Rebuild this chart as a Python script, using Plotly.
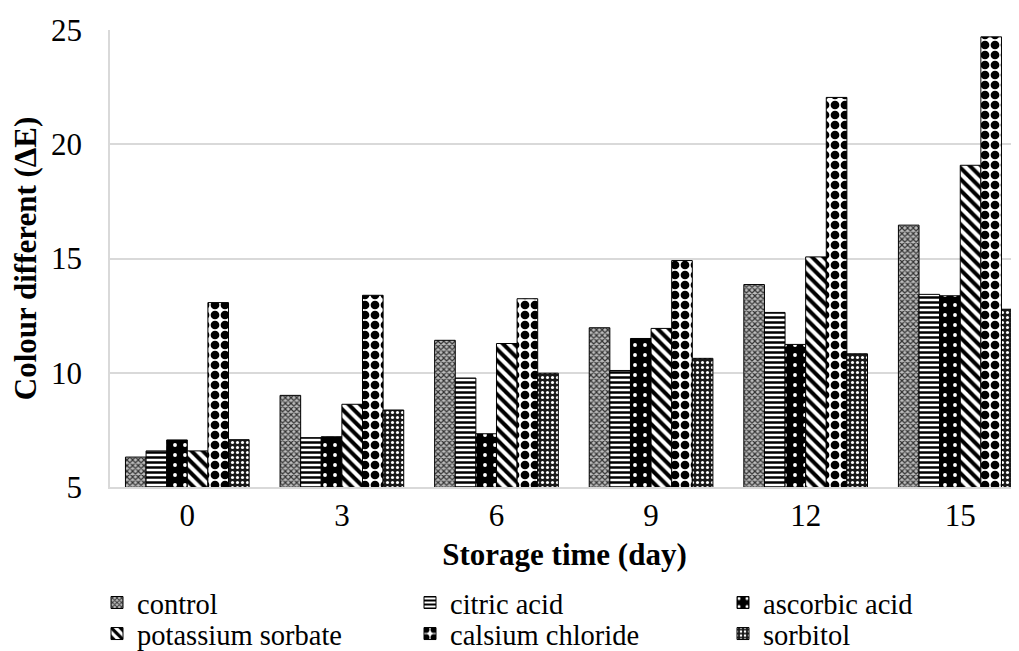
import plotly.graph_objects as go

days = ["0", "3", "6", "9", "12", "15"]
control = [6.31, 9.01, 11.42, 11.97, 13.86, 16.46]
citric_acid = [6.58, 7.16, 9.77, 10.1, 12.64, 13.43]
ascorbic_acid = [7.06, 7.2, 7.33, 11.5, 11.24, 13.37]
potassium_sorbate = [6.58, 8.62, 11.28, 11.94, 15.07, 19.08]
calsium_chloride = [13.07, 13.39, 13.24, 14.91, 22.05, 24.7]
sorbitol = [7.07, 8.37, 9.98, 10.63, 10.83, 12.78]

series = [
    ("control", control, dict(shape="x", fgcolor="#333333", bgcolor="#bdbdbd", size=4, solidity=0.5, fillmode="replace"), "legend"),
    ("citric acid", citric_acid, dict(shape="-", fgcolor="black", bgcolor="white", size=5, solidity=0.5, fillmode="replace"), "legend"),
    ("ascorbic acid", ascorbic_acid, dict(shape=".", fgcolor="white", bgcolor="black", size=10, solidity=0.12, fillmode="replace"), "legend"),
    ("potassium sorbate", potassium_sorbate, dict(shape="\\", fgcolor="black", bgcolor="white", size=8, solidity=0.5, fillmode="replace"), "legend2"),
    ("calsium chloride", calsium_chloride, dict(shape=".", fgcolor="black", bgcolor="white", size=10, solidity=0.6, fillmode="replace"), "legend2"),
    ("sorbitol", sorbitol, dict(shape=".", fgcolor="white", bgcolor="#1a1a1a", size=5, solidity=0.3, fillmode="replace"), "legend2"),
]

FONT = "Liberation Serif"
FS = 31
LFS = 28.5

fig = go.Figure()
for name, vals, pat, lg in series:
    fig.add_trace(go.Bar(
        x=days, y=vals, name=name, legend=lg,
        marker=dict(color="white", pattern=pat, line=dict(color="black", width=1)),
    ))

legend_common = dict(
    orientation="h", xanchor="left", yanchor="middle",
    entrywidth=268, entrywidthmode="pixels",
    font=dict(family=FONT, size=LFS, color="black"),
    itemwidth=30, tracegroupgap=0, traceorder="normal",
    bgcolor="rgba(0,0,0,0)",
)

fig.update_layout(
    width=1011, height=643,
    margin=dict(l=102, r=0, t=22, b=164, autoexpand=False),
    paper_bgcolor="white", plot_bgcolor="white",
    barmode="group", bargap=0.2, bargroupgap=0,
    font=dict(family=FONT, size=FS, color="black"),
    showlegend=True,
    legend=dict(x=-0.0143, y=-0.2538, **legend_common),
    legend2=dict(x=-0.0143, y=-0.3217, **legend_common),
    xaxis=dict(
        type="category", range=[-0.5, 5.38],
        showgrid=False, showline=True, linecolor="#d9d9d9", linewidth=2,
        ticks="",
        tickfont=dict(family=FONT, size=FS),
        title=dict(text="<b>Storage time (day)</b>", font=dict(family=FONT, size=FS), standoff=11),
    ),
    yaxis=dict(
        range=[5, 25], tickvals=[5, 10, 15, 20, 25],
        showgrid=True, gridcolor="#d9d9d9", gridwidth=1.5,
        showline=True, linecolor="#d9d9d9", linewidth=1.5,
        zeroline=False, ticks="", ticklen=0, ticklabelstandoff=20,
        tickfont=dict(family=FONT, size=FS),
        title=dict(text="<b>Colour different (ΔE)</b>", font=dict(family=FONT, size=FS), standoff=6),
    ),
)

fig.write_html("out.html")
